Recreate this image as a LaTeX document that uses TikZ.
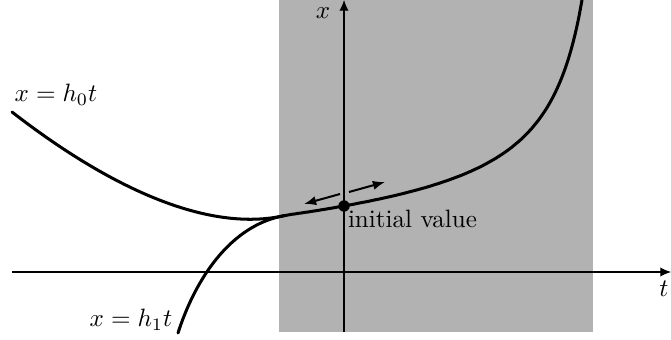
\documentclass[tikz,border=0pt]{standalone}
\usepackage{amsmath,amssymb}
\usepackage{tikz}
\usetikzlibrary{arrows.meta,positioning,calc}
\definecolor{areagray}{gray}{0.7}

\begin{document}
\begin{tikzpicture}[
    x=0.014cm, y=-0.014cm,
    axis/.style={-{Latex[length=1.5mm,width=1.3mm]}, line width=0.45pt},
    sol/.style={line width=1.2pt, line cap=round},
    dir/.style={-{Latex[length=1.7mm,width=1.3mm]}, line width=0.8pt},
    lbl/.style={inner sep=1pt},
  ]
    \useasboundingbox (0,0) rectangle (671,339);
    \fill[areagray] (279,0) rectangle (593,332);

    \coordinate (tl) at (12,272);
    \coordinate (tr) at (671,272);
    \coordinate (xb) at (344,332);
    \coordinate (xt) at (344,0);
    \draw[axis] (tl) -- (tr);
    \draw[axis] (xb) -- (xt);
    \node[lbl] (tlab) at (664,289) {$t$};
    \node[lbl] (xlab) at (323,13) {$x$};

    \coordinate (s0) at (12,112);
    \coordinate (s1) at (178,333);
    \coordinate (j)  at (285,215.5);
    \draw[sol] (s0) .. controls (110,188) and (208,233) .. (j);
    \draw[sol] (s1) .. controls (195,280) and (230,225) .. (j);
    \draw[sol] plot[domain=285:582, samples=90, smooth]
      (\x, {206-0.0713*(\x-344)-8329*(1/(620-\x)-1/276)});

    \node[circle, fill, inner sep=0pt, minimum size=1.6mm] (iv) at (344,206) {};
    \node[lbl, anchor=north west] (ivlab) at (345,207) {initial value};

    \coordinate (la) at (340,194);
    \coordinate (lb) at (304,204);
    \coordinate (ra) at (349,192);
    \coordinate (rb) at (385,182);
    \draw[dir] (la) -- (lb);
    \draw[dir] (ra) -- (rb);

    \node[lbl] (h0) at (56,95) {$x=h_0t$};
    \node[lbl] (h1) at (131,320) {$x=h_1t$};
  \end{tikzpicture}
\end{document}
